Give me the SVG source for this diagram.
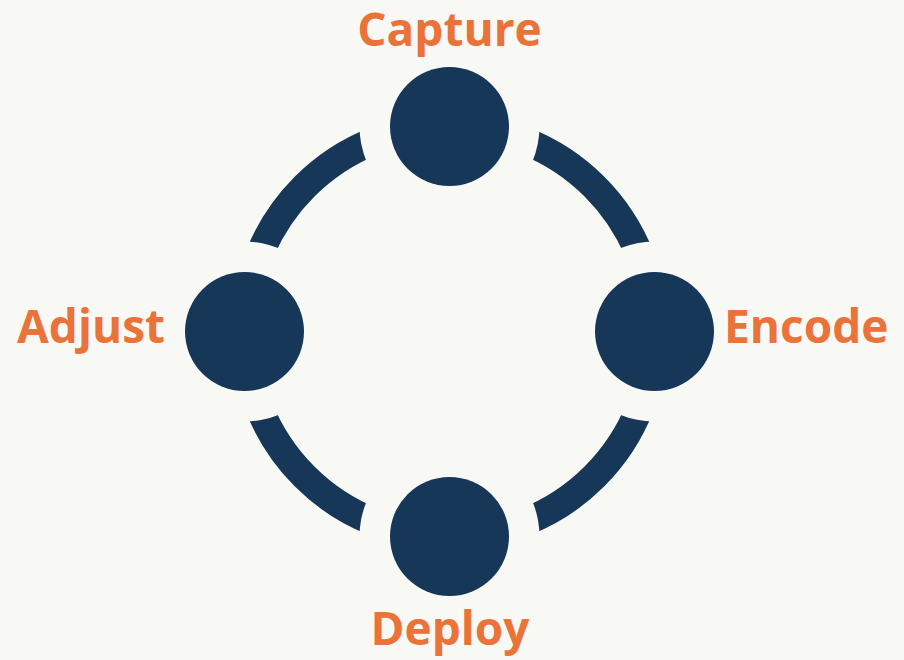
<svg xmlns="http://www.w3.org/2000/svg" width="904" height="660" viewBox="0 0 904 660">
<style>
.node{fill:#163758}
.lbl{font-family:"Open Sans","Noto Sans","Liberation Sans",sans-serif;font-weight:bold;font-size:46px;fill:#EA7339}
.ring{fill:none;stroke:#163758;stroke-width:28}
</style>
<defs>
<mask id="gaps" maskUnits="userSpaceOnUse" x="0" y="0" width="904" height="660">
<rect x="0" y="0" width="904" height="660" fill="#fff"/>
<circle cx="449.5" cy="126.5" r="90" fill="#000"/>
<circle cx="654.5" cy="331.5" r="90" fill="#000"/>
<circle cx="449.5" cy="536.5" r="90" fill="#000"/>
<circle cx="244.5" cy="331.5" r="90" fill="#000"/>
</mask>
</defs>
<rect width="904" height="660" fill="#F8F8F5"/>
<g id="connectors">
<circle class="ring" cx="449.5" cy="331.5" r="205" mask="url(#gaps)"/>
</g>
<g id="capture">
<circle class="node" cx="449.5" cy="126.5" r="59.5"/>
<text class="lbl" x="449.5" y="46" text-anchor="middle">Capture</text>
</g>
<g id="encode">
<circle class="node" cx="654.5" cy="331.5" r="59.5"/>
<text class="lbl" x="724" y="343">Encode</text>
</g>
<g id="deploy">
<circle class="node" cx="449.5" cy="536.5" r="59.5"/>
<text class="lbl" x="450" y="645" text-anchor="middle">Deploy</text>
</g>
<g id="adjust">
<circle class="node" cx="244.5" cy="331.5" r="59.5"/>
<text class="lbl" x="165" y="343" text-anchor="end">Adjust</text>
</g>
</svg>
